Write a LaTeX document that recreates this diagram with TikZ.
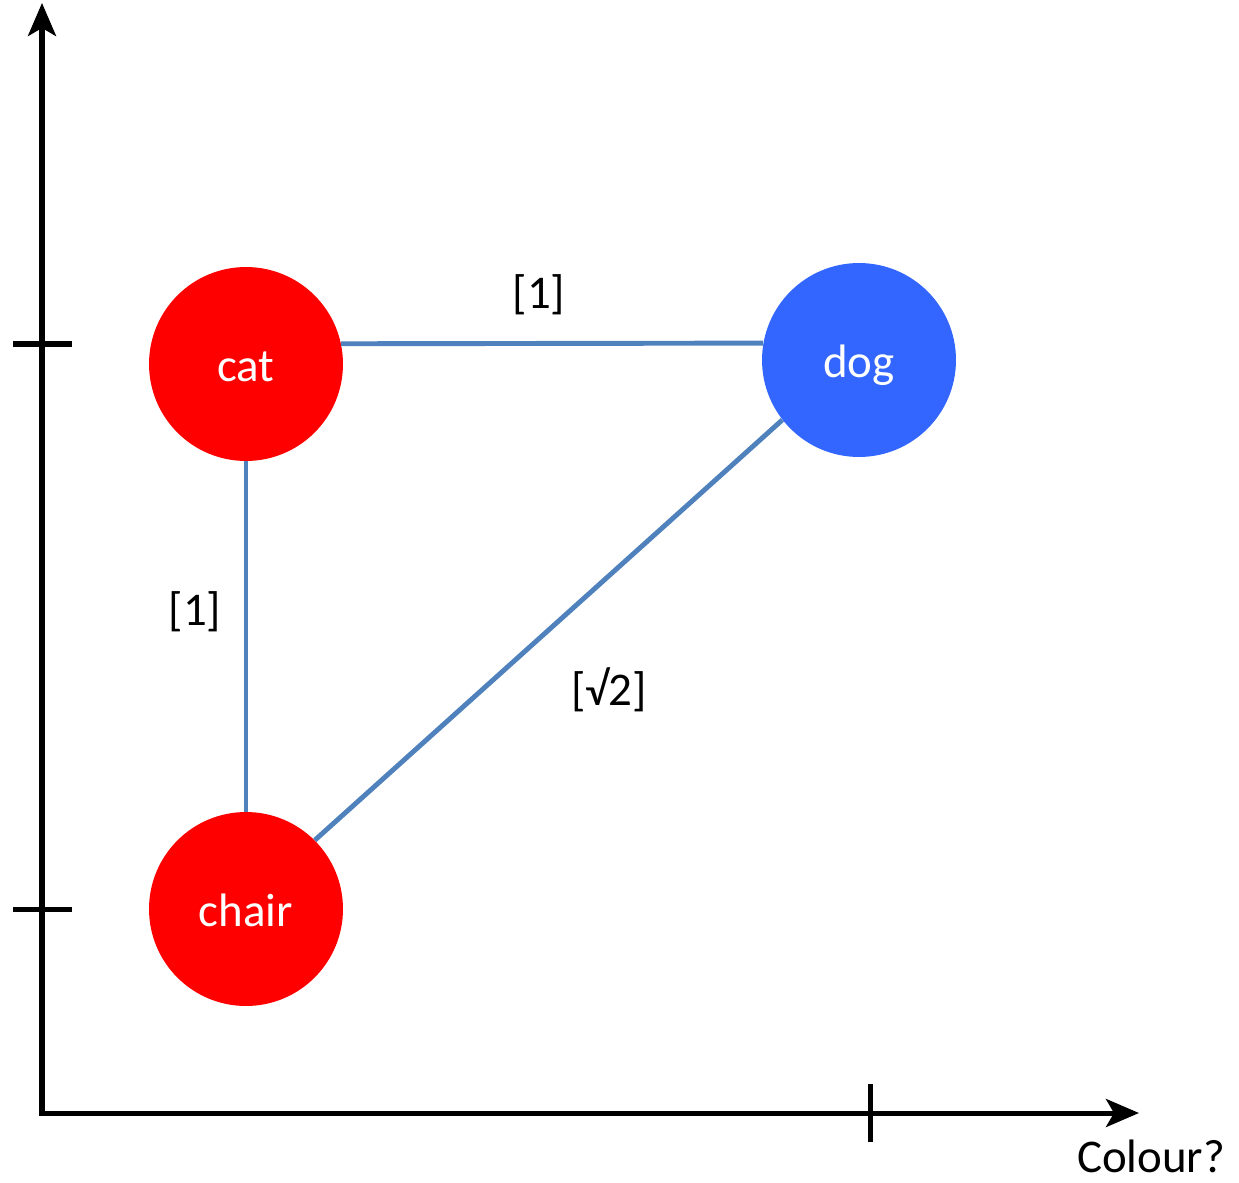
\documentclass[tikz,border=0pt]{standalone}
\usepackage{fontspec}
\setmainfont{Carlito}
\usepackage{tikz}
\usetikzlibrary{arrows.meta,calc}
\definecolor{wordred}{RGB}{255,0,0}
\definecolor{wordblue}{RGB}{51,102,255}
\definecolor{edgeblue}{RGB}{79,129,189}

\begin{document}
\begin{tikzpicture}[x=0.02cm,y=-0.02cm,>={Stealth[length=0.66cm,width=0.56cm,inset=0.16cm]},
    word/.style={circle,minimum size=3.88cm,inner sep=0pt,text=white,
        font=\fontsize{26.7}{32}\selectfont,text height=20pt,text depth=0pt},
    link/.style={edgeblue,line width=2.8pt},
    lbl/.style={font=\fontsize{26.7}{32}\selectfont,inner sep=0pt},
    axis/.style={line width=2.85pt}]
    \useasboundingbox (0,0) rectangle (1239,1182);
    % Axes
    \coordinate (O) at (42,1113);
    \coordinate (Ytop) at (42,3);
    \coordinate (Xend) at (1139,1113);
    \draw[axis,->] ($(O)+(0,3)$)--(Ytop);
    \draw[axis,->] ($(O)+(-2,0)$)--(Xend);
    
    % Ticks
    \foreach \yy in {344,909}
        \draw[axis] (13,\yy)--(72,\yy);
    \draw[axis] (870,1084)--(870,1142);
    
    % Words
    \node[word,fill=wordred] (cat) at (246,364) {cat};
    \node[word,fill=wordblue] (dog) at (859,360) {dog};
    \node[word,fill=wordred] (chair) at (246,909) {chair};
    
    % Distances
    \draw[link] (cat.12.5)--(dog.170);
    \draw[link] (cat.south)--(chair.north);
    \draw[link] (chair.45)--(dog.218);
    \node[lbl] (dcd) at (539,295) {[1]};
    \node[lbl] (dcc) at (195,612) {[1]};
    \node[lbl] (dgc) at (609,690) {[√2]};
    
    % Axis label
    \node[lbl] (colour) at (1151,1156) {Colour?};
\end{tikzpicture}
\end{document}
